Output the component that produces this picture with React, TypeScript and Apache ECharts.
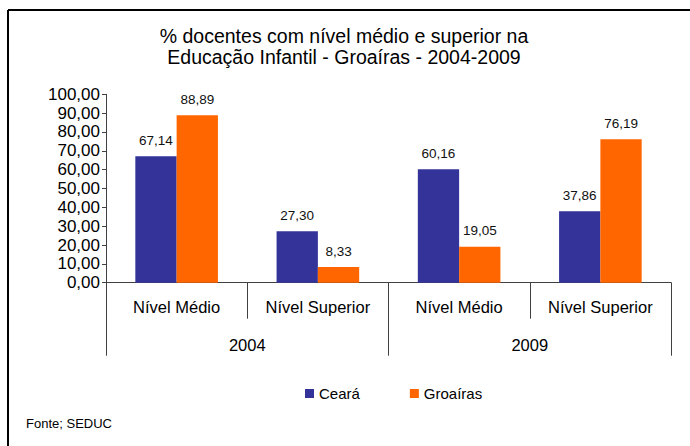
import React, { useEffect, useRef } from "react";
import * as echarts from "echarts";

const categories = ["Nível Médio", "Nível Superior", "Nível Médio", "Nível Superior"];
const years = ["2004", "2009"];
const cearaValues = [67.14, 27.3, 60.16, 37.86];
const groairasValues = [88.89, 8.33, 19.05, 76.19];
const seriesNames = ["Ceará", "Groaíras"];
const titleLines = ["% docentes com nível médio e superior na", "Educação Infantil - Groaíras - 2004-2009"];
const sourceText = "Fonte; SEDUC";

const FONT = "'Liberation Sans', Arial, sans-serif";
const fmt = (v: number) => v.toFixed(2).replace(".", ",");

export default function App() {
  const ref = useRef<HTMLDivElement>(null);
  useEffect(() => {
    if (!ref.current) return;
    const chart = echarts.init(ref.current, undefined, { renderer: "svg" });
    const axisColor = "#404040";
    chart.setOption({
      animation: false,
      backgroundColor: "#ffffff",
      textStyle: { fontFamily: FONT },
      title: {
        text: titleLines.join("\n"),
        left: 339,
        top: 20,
        textAlign: "center",
        textStyle: { fontFamily: FONT, fontSize: 19.5, fontWeight: "normal", color: "#000", lineHeight: 21 },
      },
      legend: {
        data: seriesNames,
        left: 300,
        top: 381,
        icon: "rect",
        itemWidth: 9,
        itemHeight: 9,
        itemGap: 50,
        textStyle: { fontFamily: FONT, fontSize: 15, color: "#000" },
      },
      grid: { left: 106, top: 94.3, width: 565, height: 188.4, containLabel: false },
      xAxis: [
        {
          type: "category",
          data: categories,
          position: "bottom",
          axisLine: { show: true, lineStyle: { color: axisColor, width: 1 } },
          axisTick: { show: true, alignWithLabel: false, interval: 0, length: 36, lineStyle: { color: axisColor } },
          axisLabel: { interval: 0, margin: 16, fontSize: 16.5, color: "#000", fontFamily: FONT },
        },
        {
          type: "category",
          data: years,
          position: "bottom",
          axisLine: { show: false },
          axisTick: { show: true, alignWithLabel: false, interval: 0, length: 73, lineStyle: { color: axisColor } },
          axisLabel: { interval: 0, margin: 54, fontSize: 16.5, color: "#000", fontFamily: FONT },
        },
      ],
      yAxis: {
        type: "value",
        min: 0,
        max: 100,
        interval: 10,
        splitLine: { show: false },
        axisLine: { show: true, lineStyle: { color: axisColor } },
        axisTick: { show: true, length: 4, lineStyle: { color: axisColor } },
        axisLabel: { margin: 6, fontSize: 17, color: "#000", fontFamily: FONT, formatter: (v: number) => fmt(v) },
      },
      series: [
        {
          name: seriesNames[0],
          type: "bar",
          data: cearaValues,
          barWidth: 41.3,
          barGap: "0%",
          itemStyle: { color: "#333399" },
          label: {
            show: true,
            position: "top",
            distance: 9,
            fontSize: 13.5,
            color: "#111",
            fontFamily: FONT,
            formatter: (p: any) => fmt(p.value),
          },
        },
        {
          name: seriesNames[1],
          type: "bar",
          data: groairasValues,
          barWidth: 41.3,
          barGap: "0%",
          itemStyle: { color: "#FF6600" },
          label: {
            show: true,
            position: "top",
            distance: 9,
            fontSize: 13.5,
            color: "#111",
            fontFamily: FONT,
            formatter: (p: any) => fmt(p.value),
          },
        },
      ],
      graphic: [
        { type: "line", shape: { x1: 8, y1: 10, x2: 690, y2: 10 }, style: { stroke: "#000", lineWidth: 2 } },
        { type: "line", shape: { x1: 8, y1: 10, x2: 8, y2: 446 }, style: { stroke: "#000", lineWidth: 2 } },
        {
          type: "text",
          left: 26,
          top: 417,
          style: { text: sourceText, fontSize: 13, fill: "#000", fontFamily: FONT },
        },
      ],
    });
    return () => chart.dispose();
  }, []);
  return (
    <div
      ref={ref}
      style={{ position: "absolute", left: 0, top: 0, width: 690, height: 446 }}
    />
  );
}
